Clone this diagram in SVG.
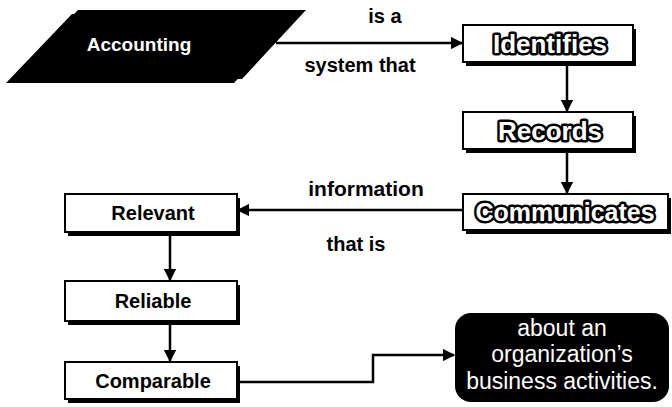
<svg xmlns="http://www.w3.org/2000/svg" width="672" height="407" viewBox="0 0 672 407">
<defs>
<style>
.box{fill:#fff;stroke:#000;stroke-width:2}
.shadow{fill:#000}
.lbl{font-family:"Liberation Sans",Arial,sans-serif;font-weight:bold;font-size:20px;fill:#000;text-anchor:middle}
.out{font-family:"Liberation Sans",Arial,sans-serif;font-weight:bold;font-size:25px;fill:#fff;stroke:#000;stroke-width:5;stroke-linejoin:round;paint-order:stroke;text-anchor:middle}
.wt{font-family:"Liberation Sans",Arial,sans-serif;font-size:23px;fill:#fff;text-anchor:middle}
.con{fill:none;stroke:#000;stroke-width:2.5}
</style>
<marker id="ah" viewBox="0 0 10 10" refX="9" refY="5" markerWidth="5" markerHeight="5" orient="auto" markerUnits="strokeWidth">
<path d="M0,0 L10,5 L0,10 z" fill="#000"/>
</marker>
</defs>
<rect width="672" height="407" fill="#fff"/>

<g id="accounting">
<polygon class="shadow" points="72,14 298,14 234,83 6,83"/>
<polygon class="shadow" points="78,10 306,10 242,79 12,79"/>
<text x="139" y="51" style="font-family:'Liberation Sans',Arial,sans-serif;font-weight:bold;font-size:19px;fill:#fff;text-anchor:middle">Accounting</text>
</g>

<g id="identifies">
<rect class="shadow" x="466" y="29" width="170" height="37"/>
<rect class="box" x="463" y="25" width="170" height="37"/>
<text class="out" x="550" y="53" style="font-size:26px">Identifies</text>
</g>

<g id="records">
<rect class="shadow" x="466" y="116" width="170" height="37"/>
<rect class="box" x="463" y="112" width="170" height="37"/>
<text class="out" x="550" y="140" style="font-size:26px">Records</text>
</g>

<g id="communicates">
<rect class="shadow" x="466" y="198" width="205" height="36"/>
<rect class="box" x="463" y="194" width="205" height="36"/>
<text class="out" x="565" y="221">Communicates</text>
</g>

<g id="relevant">
<rect class="shadow" x="68" y="198" width="172" height="38"/>
<rect class="box" x="65" y="194" width="172" height="38"/>
<text class="lbl" x="153" y="220">Relevant</text>
</g>

<g id="reliable">
<rect class="shadow" x="68" y="285" width="172" height="40"/>
<rect class="box" x="65" y="281" width="172" height="40"/>
<text class="lbl" x="153" y="308">Reliable</text>
</g>

<g id="comparable">
<rect class="shadow" x="68" y="366" width="172" height="37"/>
<rect class="box" x="65" y="362" width="172" height="37"/>
<text class="lbl" x="153" y="388">Comparable</text>
</g>

<g id="about">
<rect x="455" y="313" width="214" height="89" rx="16" fill="#000"/>
<text class="wt" x="562" y="336">about an</text>
<text class="wt" x="562" y="362">organization’s</text>
<text class="wt" x="562" y="389">business activities.</text>
</g>

<g id="connectors">
<line class="con" x1="276" y1="43" x2="462" y2="43" marker-end="url(#ah)"/>
<line class="con" x1="567" y1="66" x2="567" y2="111" marker-end="url(#ah)"/>
<line class="con" x1="567" y1="153" x2="567" y2="193" marker-end="url(#ah)"/>
<line class="con" x1="463" y1="210" x2="238" y2="210" marker-end="url(#ah)"/>
<line class="con" x1="170" y1="236" x2="170" y2="280" marker-end="url(#ah)"/>
<line class="con" x1="170" y1="325" x2="170" y2="361" marker-end="url(#ah)"/>
<polyline class="con" points="240,382 373,382 373,355 454,355" marker-end="url(#ah)"/>
<text class="lbl" x="385" y="23">is a</text>
<text class="lbl" x="360" y="72">system that</text>
<text class="lbl" x="366" y="196" style="font-size:21px">information</text>
<text class="lbl" x="356" y="251">that is</text>
</g>
</svg>
